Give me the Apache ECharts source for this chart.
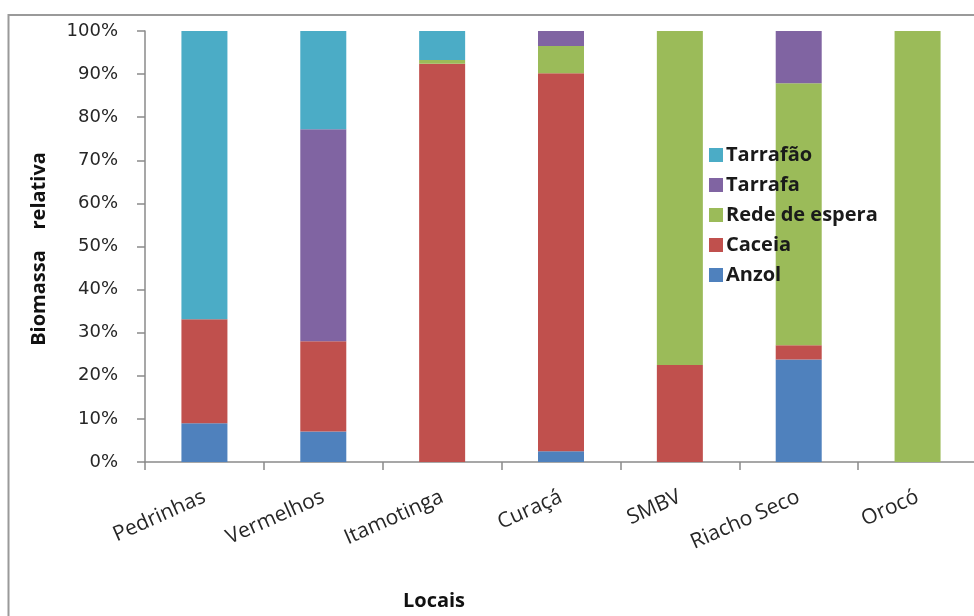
<!DOCTYPE html>
<html>
<head>
<meta charset="utf-8">
<script src="https://cdn.jsdelivr.net/npm/echarts@6/dist/echarts.min.js"></script>
<style>
  html, body { margin: 0; padding: 0; background: #fff; }
  #chart { width: 974px; height: 616px; }
</style>
</head>
<body>
<div id="chart"></div>
<script>
// Sites along the river
const locais = ['Pedrinhas', 'Vermelhos', 'Itamotinga', 'Curaçá', 'SMBV', 'Riacho Seco', 'Orocó'];

// Relative biomass (%) by fishing gear, per site
const anzol      = [9.0, 7.1, 0,    2.5,  0,    23.8, 0];
const caceia     = [24.1, 20.9, 92.4, 87.7, 22.5, 3.3, 0];
const redeEspera = [0,   0,    0.9,  6.3,  77.5, 60.8, 100];
const tarrafa    = [0,   49.2, 0,    3.5,  0,    12.1, 0];
const tarrafao   = [66.9, 22.8, 6.7, 0,    0,    0,    0];

// Y axis ticks
const yTicks = [0, 10, 20, 30, 40, 50, 60, 70, 80, 90, 100];

const seriesDefs = [
  { name: 'Anzol', data: anzol, color: '#4F81BD' },
  { name: 'Caceia', data: caceia, color: '#C0504D' },
  { name: 'Rede de espera', data: redeEspera, color: '#9BBB59' },
  { name: 'Tarrafa', data: tarrafa, color: '#8064A2' },
  { name: 'Tarrafão', data: tarrafao, color: '#4BACC6' }
];

const chart = echarts.init(document.getElementById('chart'), null, { renderer: 'canvas' });

const textFont = '"Open Sans", "Liberation Sans", sans-serif';

chart.setOption({
  animation: false,
  backgroundColor: '#fff',
  grid: { left: 145, top: 31, width: 832, height: 431, containLabel: false, outerBoundsMode: 'none' },
  legend: {
    orient: 'vertical',
    left: 709,
    top: 145,
    padding: 0,
    itemWidth: 14,
    itemHeight: 14,
    itemGap: 10,
    icon: 'rect',
    data: ['Tarrafão', 'Tarrafa', 'Rede de espera', 'Caceia', 'Anzol'],
    textStyle: { fontFamily: textFont, fontSize: 20, fontWeight: 'bold', lineHeight: 16, color: '#1a1a1a', padding: [0, 0, 0, -2] }
  },
  xAxis: {
    type: 'category',
    data: locais,
    axisLine: { lineStyle: { color: '#8a8a8a', width: 1.5 } },
    axisTick: { show: true, length: 8, alignWithLabel: false, lineStyle: { color: '#8a8a8a', width: 1.5 } },
    axisLabel: { rotate: 24, margin: 34, fontFamily: textFont, fontSize: 21, color: '#262626' }
  },
  yAxis: {
    type: 'value',
    min: yTicks[0],
    max: yTicks[yTicks.length - 1],
    interval: yTicks[1] - yTicks[0],
    splitLine: { show: false },
    axisLine: { show: true, lineStyle: { color: '#8a8a8a', width: 1.5 } },
    axisTick: { show: true, length: 8, lineStyle: { color: '#8a8a8a', width: 1.5 } },
    axisLabel: {
      margin: 27,
      formatter: '{value}%',
      fontFamily: '"DejaVu Sans", Verdana, sans-serif',
      fontSize: 18,
      color: '#262626'
    }
  },
  series: seriesDefs.map(s => ({
    name: s.name,
    type: 'bar',
    stack: 'total',
    barWidth: 46,
    data: s.data,
    itemStyle: { color: s.color },
    emphasis: { disabled: true }
  })),
  graphic: [
    {
      type: 'rect',
      shape: { x: 8.5, y: 15, width: 1000, height: 700 },
      style: { fill: 'none', stroke: '#9a9a9a', lineWidth: 2 },
      silent: true
    },
    {
      type: 'text',
      x: 39,
      y: 249,
      rotation: Math.PI / 2,
      style: {
        text: 'Biomassa    relativa',
        font: 'bold 20px "Open Sans", "Liberation Sans", sans-serif',
        fill: '#111',
        textAlign: 'center',
        textVerticalAlign: 'middle'
      }
    },
    {
      type: 'text',
      x: 434,
      y: 601,
      style: {
        text: 'Locais',
        font: 'bold 20px "Open Sans", "Liberation Sans", sans-serif',
        fill: '#111',
        textAlign: 'center',
        textVerticalAlign: 'middle'
      }
    }
  ]
});
</script>
</body>
</html>
